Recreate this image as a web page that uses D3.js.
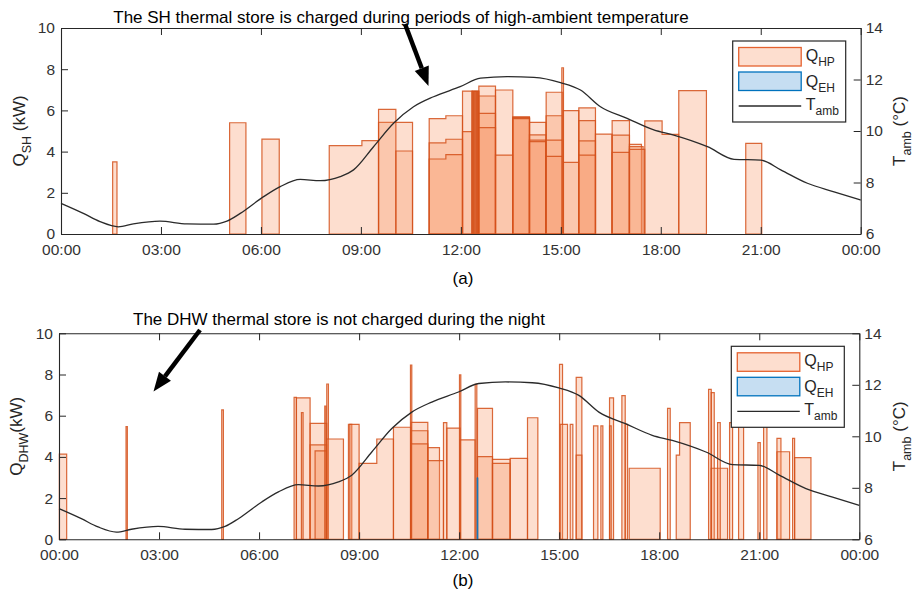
<!DOCTYPE html>
<html>
<head>
<meta charset="utf-8">
<script src="https://cdn.jsdelivr.net/npm/d3@7"></script>
<style>
  body { margin: 0; background: #fff; }
  svg text { font-family: "Liberation Sans", Arial, sans-serif; }
</style>
</head>
<body>
<svg id="chart" width="917" height="596"></svg>
<script>
// x axis: hours of the day
const hourTicks = [0, 3, 6, 9, 12, 15, 18, 21, 24];
const hourLabels = ["00:00", "03:00", "06:00", "09:00", "12:00", "15:00", "18:00", "21:00", "00:00"];
const qTicks = [0, 2, 4, 6, 8, 10];
const tTicks = [6, 8, 10, 12, 14];

// ambient temperature (hour, degC)
const tambHours  = [0, 0.67, 1.17, 1.72, 2.17, 2.97, 3.78, 4.58, 4.98, 5.38, 6.08, 6.58, 7.18, 7.78, 8.38, 8.78, 9.38, 9.98, 10.58, 11.18, 11.98, 12.59, 13.39, 14.19, 14.99, 15.59, 16.19, 16.99, 17.79, 18.39, 19.4, 20.2, 21.0, 21.6, 22.4, 23.2, 24];
const tambValues = [7.19, 6.80, 6.48, 6.28, 6.39, 6.50, 6.39, 6.38, 6.50, 6.80, 7.45, 7.84, 8.12, 8.07, 8.23, 8.49, 9.39, 10.30, 10.94, 11.33, 11.72, 12.05, 12.11, 12.08, 11.88, 11.59, 10.94, 10.49, 10.04, 9.84, 9.39, 8.90, 8.87, 8.49, 7.97, 7.64, 7.32];

// heat pump charging, SH store: step series [hour, kW] ... [end hour, 0]
const shSeries = [
  [[1.55, 3.5], [1.68, 0]],
  [[5.06, 5.40], [5.55, 0]],
  [[6.03, 4.61], [6.55, 0]],
  [[8.05, 4.29], [9.03, 4.53], [9.53, 0]],
  [[9.53, 5.42], [10.55, 0]],
  [[9.53, 6.05], [10.05, 0]],
  [[10.05, 4.03], [10.55, 0]],
  [[11.05, 5.60], [11.55, 5.74], [12.05, 0]],
  [[11.05, 4.42], [11.55, 4.60], [12.05, 0]],
  [[11.05, 3.64], [11.55, 3.85], [12.05, 0]],
  [[12.05, 6.94], [12.34, 0]],
  [[12.05, 4.97], [12.34, 0]],
  [[12.34, 6.94], [12.54, 0]],
  [[12.34, 6.92], [12.39, 0]],
  [[12.38, 6.92], [12.43, 0]],
  [[12.42, 6.92], [12.47, 0]],
  [[12.46, 6.92], [12.51, 0]],
  [[12.50, 6.92], [12.54, 0]],
  [[12.54, 7.18], [13.04, 0]],
  [[12.54, 6.70], [13.04, 0]],
  [[12.54, 5.86], [13.04, 0]],
  [[12.54, 5.16], [13.04, 0]],
  [[13.04, 6.99], [13.56, 0]],
  [[13.04, 3.83], [13.56, 0]],
  [[13.56, 5.69], [14.06, 0]],
  [[13.56, 5.66], [14.06, 0]],
  [[13.56, 5.63], [14.06, 0]],
  [[13.56, 5.60], [14.06, 0]],
  [[14.06, 5.42], [14.56, 0]],
  [[14.06, 4.81], [14.56, 0]],
  [[14.06, 4.56], [14.56, 0]],
  [[14.06, 4.48], [14.56, 0]],
  [[14.56, 6.88], [15.06, 0]],
  [[14.56, 5.74], [15.06, 0]],
  [[14.56, 4.56], [15.06, 0]],
  [[14.56, 3.77], [15.06, 0]],
  [[15.06, 5.99], [15.54, 0]],
  [[15.06, 3.48], [15.54, 0]],
  [[15.03, 8.07], [15.08, 0]],
  [[15.54, 6.12], [16.04, 0]],
  [[15.54, 5.50], [16.04, 0]],
  [[15.54, 4.52], [16.04, 0]],
  [[15.54, 3.83], [16.04, 0]],
  [[16.04, 4.85], [16.54, 0]],
  [[16.54, 5.50], [17.06, 0]],
  [[16.54, 4.80], [17.06, 0]],
  [[16.54, 3.96], [17.06, 0]],
  [[17.06, 4.35], [17.42, 0]],
  [[17.06, 4.24], [17.47, 0]],
  [[17.06, 4.11], [17.52, 0]],
  [[17.52, 5.49], [18.04, 4.84], [18.54, 0]],
  [[18.54, 6.96], [19.37, 0]],
  [[20.55, 4.40], [21.03, 0]]
];

// heat pump charging, DHW store
const dhwSeries = [
  [[0.01, 4.13], [0.23, 0]],
  [[2.01, 5.47], [2.05, 0]],
  [[4.88, 6.28], [4.93, 0]],
  [[7.05, 6.89], [7.12, 0]],
  [[7.12, 6.87], [7.53, 0]],
  [[7.27, 6.15], [7.32, 0]],
  [[7.53, 5.63], [8.03, 0]],
  [[7.53, 4.58], [8.03, 0]],
  [[7.68, 4.29], [8.03, 0]],
  [[7.97, 6.47], [8.01, 0]],
  [[8.03, 7.54], [8.08, 0]],
  [[8.03, 4.87], [8.53, 0]],
  [[8.68, 5.58], [8.78, 0]],
  [[8.72, 5.58], [9.0, 0]],
  [[9.0, 3.69], [9.53, 4.87], [10.03, 0]],
  [[10.03, 5.44], [10.56, 0]],
  [[10.54, 8.46], [10.58, 0]],
  [[10.56, 5.68], [11.06, 0]],
  [[10.56, 5.27], [11.06, 0]],
  [[10.56, 4.63], [11.06, 0]],
  [[11.06, 4.45], [11.41, 0]],
  [[11.06, 3.82], [11.53, 0]],
  [[11.53, 5.66], [11.63, 0]],
  [[11.63, 5.40], [12.03, 0]],
  [[12.01, 7.98], [12.05, 0]],
  [[12.03, 4.83], [12.48, 0]],
  [[12.48, 7.52], [12.53, 0]],
  [[12.55, 6.36], [13.0, 0]],
  [[12.55, 4.01], [13.0, 0]],
  [[13.0, 3.88], [13.53, 0]],
  [[13.0, 3.69], [13.53, 0]],
  [[13.53, 3.93], [14.05, 0]],
  [[14.05, 5.90], [14.36, 0]],
  [[15.01, 8.49], [15.1, 0]],
  [[15.03, 5.58], [15.25, 0]],
  [[15.33, 5.58], [15.41, 0]],
  [[15.51, 7.86], [15.68, 0]],
  [[15.51, 4.09], [15.68, 0]],
  [[16.03, 5.51], [16.16, 0]],
  [[16.25, 5.51], [16.31, 0]],
  [[16.51, 6.87], [16.63, 0]],
  [[16.51, 5.51], [16.56, 0]],
  [[16.88, 6.97], [16.98, 0]],
  [[16.98, 5.58], [17.05, 0]],
  [[17.1, 3.45], [18.03, 0]],
  [[18.25, 6.36], [18.33, 0]],
  [[18.51, 4.09], [18.61, 5.66], [18.93, 0]],
  [[19.48, 7.28], [19.56, 0]],
  [[19.56, 7.12], [19.65, 0]],
  [[19.56, 3.45], [20.05, 0]],
  [[19.75, 5.66], [19.83, 0]],
  [[20.11, 5.66], [20.2, 0]],
  [[20.38, 5.6], [20.53, 0]],
  [[20.96, 4.69], [21.03, 0]],
  [[21.13, 5.55], [21.23, 0]],
  [[21.53, 4.90], [21.65, 0]],
  [[21.53, 4.25], [21.91, 0]],
  [[22.0, 4.90], [22.06, 0]],
  [[22.06, 3.96], [22.55, 0]]
];

// electric heater, DHW store
const ehDhwSeries = [
  [[12.54, 2.99], [12.56, 0]]
];

const hpFill = "#f7915f", hpStroke = "#d4501a";
const ehFill = "#c6def2", ehStroke = "#0072bd";
const axisColor = "#262626";

const svg = d3.select("#chart");

const panels = [
  { x0: 61, x1: 860.7, y0: 28, y1: 234, hp: shSeries, eh: [], sub: "SH", unit: " (kW)",
    labX: 25, rLabX: 905,
    note: "The SH thermal store is charged during periods of high-ambient temperature",
    noteX: 401, noteY: 22.5, arrow: [405, 24, 428.5, 86], caption: "(a)", capY: 284 },
  { x0: 59, x1: 859.3, y0: 333.3, y1: 539.3, hp: dhwSeries, eh: ehDhwSeries, sub: "DHW", unit: "(kW)",
    labX: 21.5, rLabX: 905,
    note: "The DHW thermal store is not charged during the night",
    noteX: 339, noteY: 325, arrow: [200, 330, 153.5, 391.5], caption: "(b)", capY: 586 }
];

panels.forEach(drawPanel);

function drawPanel(p) {
  const x = d3.scaleLinear().domain([0, 24]).range([p.x0, p.x1]);
  const y = d3.scaleLinear().domain([0, 10]).range([p.y1, p.y0]);
  const yT = d3.scaleLinear().domain([6, 14]).range([p.y1, p.y0]);
  const g = svg.append("g");

  const area = d3.area()
    .curve(d3.curveStepAfter)
    .x(d => x(d[0]))
    .y0(y(0))
    .y1(d => y(d[1]));

  g.append("g").selectAll("path")
    .data(p.hp)
    .enter().append("path")
    .attr("d", area)
    .attr("fill", hpFill)
    .attr("fill-opacity", 0.3)
    .attr("stroke", hpStroke)
    .attr("stroke-opacity", 0.85)
    .attr("stroke-width", 1.2);

  g.append("g").selectAll("path")
    .data(p.eh)
    .enter().append("path")
    .attr("d", area)
    .attr("fill", ehFill)
    .attr("stroke", ehStroke)
    .attr("stroke-width", 1);

  // ambient temperature
  const line = d3.line()
    .curve(d3.curveMonotoneX)
    .x((d, i) => x(tambHours[i]))
    .y(d => yT(d));
  g.append("path")
    .datum(tambValues)
    .attr("d", line)
    .attr("fill", "none")
    .attr("stroke", "#2a2a2a")
    .attr("stroke-width", 1.3);

  // axes box, ticks inward
  const xb = d3.axisBottom(x).tickValues(hourTicks).tickFormat((d, i) => hourLabels[i])
    .tickSizeInner(-7).tickSizeOuter(0).tickPadding(10);
  const xt = d3.axisTop(x).tickValues(hourTicks).tickFormat("")
    .tickSizeInner(-7).tickSizeOuter(0);
  const yl = d3.axisLeft(y).tickValues(qTicks).tickSizeInner(-7).tickSizeOuter(0).tickPadding(6);
  const yr = d3.axisRight(yT).tickValues(tTicks).tickSizeInner(-7).tickSizeOuter(0).tickPadding(5);

  const axes = [
    [xb, `translate(0,${p.y1})`],
    [xt, `translate(0,${p.y0})`],
    [yl, `translate(${p.x0},0)`],
    [yr, `translate(${p.x1},0)`]
  ];
  axes.forEach(([ax, tr]) => {
    const a = g.append("g").attr("transform", tr).call(ax);
    a.selectAll("path.domain").attr("stroke", axisColor).attr("stroke-width", 1.1);
    a.selectAll("line").attr("stroke", axisColor).attr("stroke-width", 1);
    a.selectAll("text").attr("fill", "#333").style("font-size", "15.5px")
      .style("font-family", '"Liberation Sans", Arial, sans-serif');
  });

  // y labels
  const cy = (p.y0 + p.y1) / 2;
  const ly = g.append("text")
    .attr("transform", `translate(${p.labX},${cy}) rotate(-90)`)
    .attr("text-anchor", "middle")
    .attr("fill", "#262626")
    .style("font-size", "17px");
  ly.append("tspan").text("Q");
  ly.append("tspan").attr("dy", 6).style("font-size", "12.5px").text(p.sub);
  ly.append("tspan").attr("dy", -6).text(p.unit);

  const ry = g.append("text")
    .attr("transform", `translate(${p.rLabX},${cy}) rotate(-90)`)
    .attr("text-anchor", "middle")
    .attr("fill", "#262626")
    .style("font-size", "17px");
  ry.append("tspan").text("T");
  ry.append("tspan").attr("dy", 6).style("font-size", "12.5px").text("amb");
  ry.append("tspan").attr("dy", -6).text(" (°C)");

  // legend
  const lw = 113, lh = 81;
  const lg = g.append("g").attr("transform", `translate(${p.x1 - 15 - lw},${p.y0 + 13})`);
  lg.append("rect").attr("width", lw).attr("height", lh)
    .attr("fill", "#fff").attr("stroke", axisColor).attr("stroke-width", 1.2);
  lg.append("rect").attr("x", 6).attr("y", 6.5).attr("width", 62.5).attr("height", 18.5)
    .attr("fill", hpFill).attr("fill-opacity", 0.3).attr("stroke", "#e5622f").attr("stroke-width", 1.3);
  lg.append("rect").attr("x", 6).attr("y", 31).attr("width", 62.5).attr("height", 18.5)
    .attr("fill", ehFill).attr("stroke", ehStroke).attr("stroke-width", 1.3);
  lg.append("line").attr("x1", 6).attr("x2", 68.5).attr("y1", 65).attr("y2", 65)
    .attr("stroke", "#2a2a2a").attr("stroke-width", 1.3);
  const legLabels = [["Q", "HP", 19.5], ["Q", "EH", 45.5], ["T", "amb", 69]];
  legLabels.forEach(([m, s, by]) => {
    const t = lg.append("text").attr("x", 73).attr("y", by).attr("fill", "#262626").style("font-size", "16px");
    t.append("tspan").text(m);
    t.append("tspan").attr("dy", 5).style("font-size", "12px").text(s);
  });

  // annotation and arrow
  g.append("text").attr("x", p.noteX).attr("y", p.noteY).attr("text-anchor", "middle")
    .attr("fill", "#000").style("font-size", "17px").text(p.note);
  drawArrow(g, ...p.arrow);

  g.append("text").attr("x", 463).attr("y", p.capY).attr("text-anchor", "middle")
    .attr("fill", "#000").style("font-size", "17px").text(p.caption);
}

function drawArrow(g, x1, y1, x2, y2) {
  const ang = Math.atan2(y2 - y1, x2 - x1);
  const headLen = 19, headHalf = 7.5;
  const bx = x2 - headLen * Math.cos(ang), by = y2 - headLen * Math.sin(ang);
  g.append("line").attr("x1", x1).attr("y1", y1).attr("x2", bx).attr("y2", by)
    .attr("stroke", "#000").attr("stroke-width", 4.5);
  const nx = -Math.sin(ang), ny = Math.cos(ang);
  g.append("path")
    .attr("d", `M${x2},${y2}L${bx + nx * headHalf},${by + ny * headHalf}L${bx - nx * headHalf},${by - ny * headHalf}Z`)
    .attr("fill", "#000");
}
</script>
</body>
</html>
